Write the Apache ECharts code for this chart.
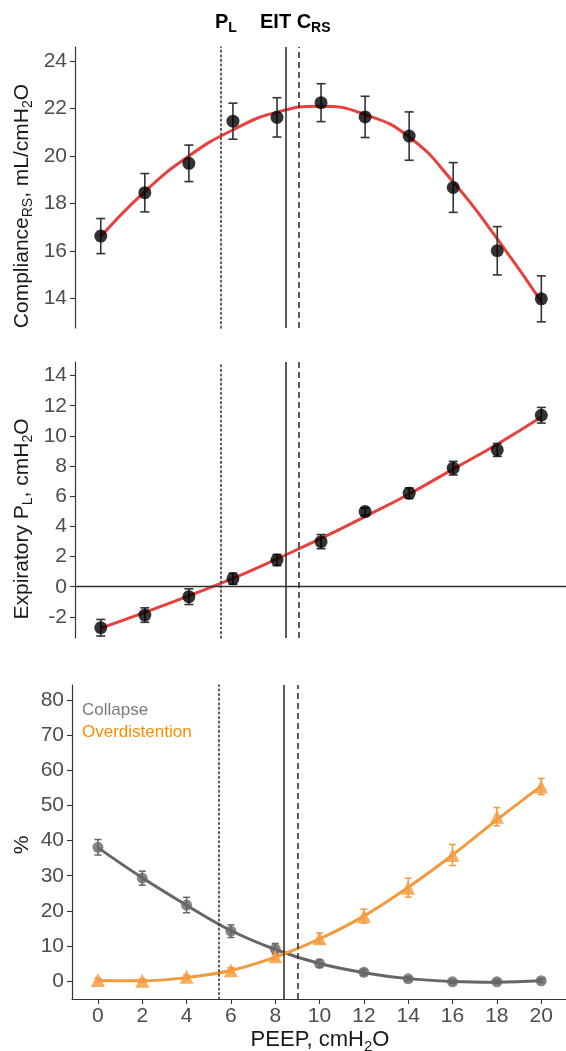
<!DOCTYPE html>
<html>
<head>
<meta charset="utf-8">
<script src="https://cdn.jsdelivr.net/npm/echarts@6/dist/echarts.min.js"></script>
<style>
html,body{margin:0;padding:0;background:#fff;}
#c{width:566px;height:1051px;}
</style>
</head>
<body>
<div id="c"></div>
<script>
// ---- data ----
const peep = [0, 2, 4, 6, 8, 10, 12, 14, 16, 18, 20];
const xTicks = [0, 2, 4, 6, 8, 10, 12, 14, 16, 18, 20];

const complianceMean = [16.62, 18.45, 19.69, 21.47, 21.63, 22.25, 21.65, 20.84, 18.67, 16.0, 13.97];
const complianceErr  = [0.74, 0.81, 0.77, 0.76, 0.83, 0.80, 0.87, 1.02, 1.05, 1.02, 0.97];
const complianceFit  = [16.6, 18.5, 20.0, 21.1, 21.85, 22.1, 21.75, 20.8, 18.9, 16.5, 13.85];
const complianceTicks = [14, 16, 18, 20, 22, 24];

const plMean = [-2.72, -1.88, -0.66, 0.53, 1.77, 2.99, 4.98, 6.2, 7.86, 9.07, 11.37];
const plErr  = [0.55, 0.48, 0.52, 0.37, 0.37, 0.47, 0.25, 0.35, 0.45, 0.43, 0.52];
const plFit  = [-2.75, -1.7, -0.6, 0.55, 1.85, 3.2, 4.65, 6.15, 7.8, 9.45, 11.25];
const plTicks = [-2, 0, 2, 4, 6, 8, 10, 12, 14];

const collapseMean = [38.1, 29.3, 21.65, 14.2, 9.2, 5.0, 2.5, 0.66, -0.2, -0.2, 0.1];
const collapseErr  = [2.2, 2.0, 2.2, 1.8, 1.5, 1.0, 0.8, 0.6, 0.5, 0.5, 0.5];
const collapseFit  = [38.0, 29.4, 21.6, 14.4, 9.0, 5.0, 2.4, 0.7, -0.1, -0.3, 0.1];
const overMean = [0.3, 0.1, 1.2, 3.1, 7.1, 12.2, 18.5, 26.6, 35.9, 46.8, 55.4];
const overErr  = [0.5, 0.5, 0.5, 0.7, 1.0, 1.5, 2.0, 2.7, 3.0, 2.6, 2.3];
const overFit  = [0.2, 0.1, 1.0, 3.0, 6.8, 12.0, 18.5, 26.7, 35.9, 45.9, 55.5];
const pctTicks = [0, 10, 20, 30, 40, 50, 60, 70, 80];

const refLines = [5.45, 8.4, 9.0]; // P_L (dotted), EIT (solid), C_RS (dashed)

// ---- styling ----
const FONT = 'Liberation Sans, Arial, Helvetica, sans-serif';
const AX = '#333333';
const TICKCOL = '#4d4d4d';
const RED = '#E8403C';
const GRAY = '#666666';
const ORANGE = '#F29B3E';

const chart = echarts.init(document.getElementById('c'), null, {renderer: 'canvas'});

function errData(mean, err) {
  return peep.map((x, i) => [x, mean[i] - err[i], mean[i] + err[i]]);
}
function pts(arr) { return peep.map((x, i) => [x, arr[i]]); }

function errSeries(idx, mean, err, color, cap, width) {
  return {
    type: 'custom', xAxisIndex: idx, yAxisIndex: idx, silent: true, z: 3,
    data: errData(mean, err),
    renderItem: function (params, api) {
      const x = api.value(0);
      const lo = api.coord([x, api.value(1)]);
      const hi = api.coord([x, api.value(2)]);
      const st = {stroke: color, lineWidth: width};
      return {
        type: 'group',
        children: [
          {type: 'line', shape: {x1: lo[0], y1: lo[1], x2: hi[0], y2: hi[1]}, style: st},
          {type: 'line', shape: {x1: lo[0] - cap, y1: lo[1], x2: lo[0] + cap, y2: lo[1]}, style: st},
          {type: 'line', shape: {x1: hi[0] - cap, y1: hi[1], x2: hi[0] + cap, y2: hi[1]}, style: st}
        ]
      };
    }
  };
}

function vLines() {
  return {
    silent: true, symbol: 'none', animation: false,
    label: {show: false},
    data: [
      {xAxis: refLines[0], lineStyle: {color: AX, width: 1.6, type: [1.6, 3], cap: 'round'}},
      {xAxis: refLines[1], lineStyle: {color: AX, width: 1.6, type: 'solid'}},
      {xAxis: refLines[2], lineStyle: {color: AX, width: 1.6, type: [6, 4]}}
    ]
  };
}

function yAx(idx, min, max, ticks, fs) {
  return {
    type: 'value', gridIndex: idx, min: min, max: max,
    axisLine: {show: true, onZero: false, lineStyle: {color: AX, width: 1.2}},
    axisTick: {show: true, length: 5, customValues: ticks, lineStyle: {color: AX, width: 1.1}},
    axisLabel: {customValues: ticks, color: TICKCOL, fontSize: fs, fontFamily: FONT, margin: 8},
    splitLine: {show: false}
  };
}
function xAx(idx, shown) {
  return {
    type: 'value', gridIndex: idx, min: -1.17, max: 21.12,
    show: shown,
    axisLine: {show: shown, onZero: false, lineStyle: {color: AX, width: 1.2}},
    axisTick: {show: shown, length: 5, customValues: xTicks, lineStyle: {color: AX, width: 1.1}},
    axisLabel: {show: shown, customValues: xTicks, color: TICKCOL, fontSize: 21, fontFamily: FONT, margin: 7},
    splitLine: {show: false}
  };
}

function richSet(fs, sfs, col, weight) {
  const lh = fs + 6;
  return {
    a: {fontSize: fs, fontFamily: FONT, fontWeight: weight, fill: col, lineHeight: lh, height: lh, verticalAlign: 'bottom'},
    s: {fontSize: sfs, fontFamily: FONT, fontWeight: weight, fill: col, height: sfs, verticalAlign: 'bottom'}
  };
}

const option = {
  animation: false,
  backgroundColor: '#ffffff',
  grid: [
    {left: 75, right: 0, top: 47, height: 281},
    {left: 75, right: 0, top: 362, height: 276},
    {left: 72, right: 0, top: 685, height: 314}
  ],
  xAxis: [xAx(0, false), xAx(1, false), xAx(2, true)],
  yAxis: [
    yAx(0, 12.74, 24.6, complianceTicks, 21),
    yAx(1, -3.4, 14.9, plTicks, 21),
    yAx(2, -5.1, 84.3, pctTicks, 21)
  ],
  graphic: [
    {type: 'text', left: 215, top: 9, style: {text: '{a|P}{s|L}', rich: richSet(20, 14, '#000', 'bold')}},
    {type: 'text', left: 260, top: 9, style: {text: '{a|EIT C}{s|RS}', rich: richSet(20, 14, '#000', 'bold')}},
    {type: 'text', x: 22, y: 206, rotation: Math.PI / 2,
     style: {text: '{a|Compliance}{s|RS}{a|, mL/cmH}{s|2}{a|O}', rich: richSet(21, 14, '#1a1a1a', 'normal'), align: 'center', verticalAlign: 'middle'}},
    {type: 'text', x: 22, y: 519, rotation: Math.PI / 2,
     style: {text: '{a|Expiratory P}{s|L}{a|, cmH}{s|2}{a|O}', rich: richSet(21, 14, '#1a1a1a', 'normal'), align: 'center', verticalAlign: 'middle'}},
    {type: 'text', x: 22, y: 845, rotation: Math.PI / 2,
     style: {text: '{a|%}', rich: richSet(21, 14, '#1a1a1a', 'normal'), align: 'center', verticalAlign: 'middle'}},
    {type: 'text', x: 320, y: 1040,
     style: {text: '{a|PEEP, cmH}{s|2}{a|O}', rich: richSet(22, 15, '#1a1a1a', 'normal'), align: 'center', verticalAlign: 'middle'}},
    {type: 'text', left: 82, top: 702, style: {text: 'Collapse', fontSize: 17, fontFamily: FONT, fill: '#7a7a7a'}},
    {type: 'text', left: 82, top: 724, style: {text: 'Overdistention', fontSize: 17, fontFamily: FONT, fill: '#FF8C00'}}
  ],
  series: [
    // ---- panel 1: compliance ----
    {type: 'line', xAxisIndex: 0, yAxisIndex: 0, data: pts(complianceFit), smooth: 0.5,
     showSymbol: false, silent: true, z: 2, lineStyle: {color: RED, width: 3}, markLine: vLines()},
    errSeries(0, complianceMean, complianceErr, AX, 4.5, 1.6),
    {type: 'scatter', xAxisIndex: 0, yAxisIndex: 0, data: pts(complianceMean), symbol: 'circle',
     symbolSize: 13, itemStyle: {color: '#000'}, z: 4, silent: true},
    // ---- panel 2: expiratory PL ----
    {type: 'line', xAxisIndex: 1, yAxisIndex: 1, data: pts(plFit), smooth: 0.5,
     showSymbol: false, silent: true, z: 2, lineStyle: {color: RED, width: 3},
     markLine: (function () {
       const m = vLines();
       m.data.push({yAxis: 0, lineStyle: {color: AX, width: 1.4, type: 'solid'}});
       return m;
     })()},
    errSeries(1, plMean, plErr, AX, 4.5, 1.6),
    {type: 'scatter', xAxisIndex: 1, yAxisIndex: 1, data: pts(plMean), symbol: 'circle',
     symbolSize: 13, itemStyle: {color: '#000'}, z: 4, silent: true},
    // ---- panel 3: collapse / overdistention ----
    {type: 'line', xAxisIndex: 2, yAxisIndex: 2, data: pts(collapseFit), smooth: 0.4,
     showSymbol: false, silent: true, z: 2, lineStyle: {color: GRAY, width: 3}, markLine: vLines()},
    {type: 'line', xAxisIndex: 2, yAxisIndex: 2, data: pts(overFit), smooth: 0.4,
     showSymbol: false, silent: true, z: 2, lineStyle: {color: ORANGE, width: 3}},
    errSeries(2, collapseMean, collapseErr, GRAY, 3.5, 1.5),
    errSeries(2, overMean, overErr, ORANGE, 3.5, 1.5),
    {type: 'scatter', xAxisIndex: 2, yAxisIndex: 2, data: pts(collapseMean), symbol: 'circle',
     symbolSize: 11, itemStyle: {color: GRAY}, z: 4, silent: true},
    {type: 'scatter', xAxisIndex: 2, yAxisIndex: 2, data: pts(overMean), symbol: 'triangle',
     symbolSize: 14, itemStyle: {color: ORANGE}, z: 4, silent: true}
  ]
};
chart.setOption(option);
</script>
</body>
</html>
